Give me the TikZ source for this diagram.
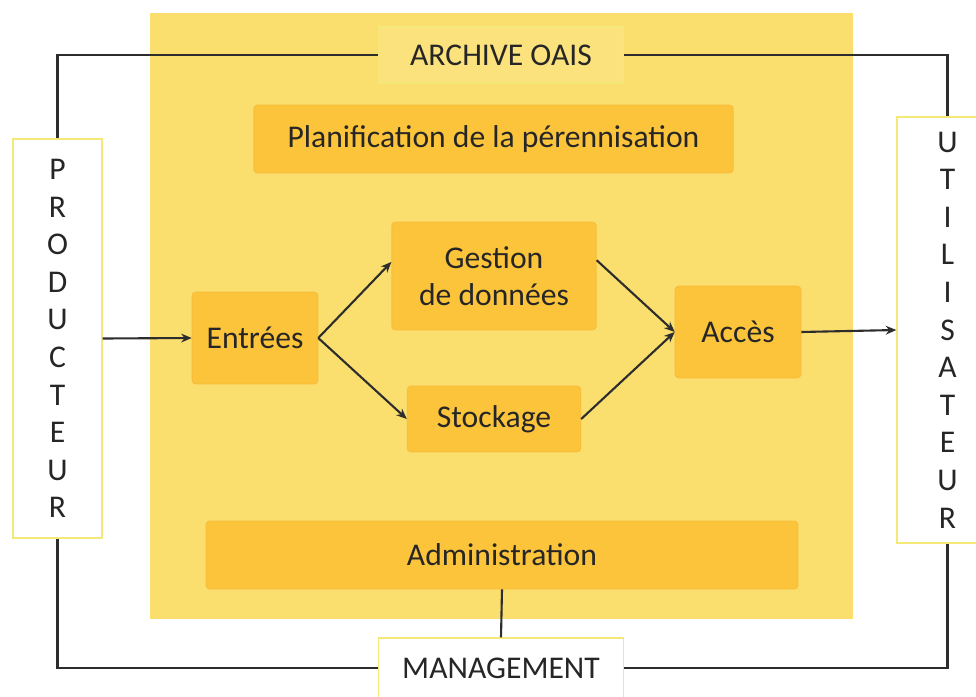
\documentclass[tikz,border=0pt]{standalone}
\usepackage{fontspec}
\setmainfont{Carlito}
\usetikzlibrary{arrows.meta}

\definecolor{fond}{RGB}{250,222,110}
\definecolor{bloc}{RGB}{252,196,58}
\definecolor{blocbord}{RGB}{248,190,60}
\definecolor{etiq}{RGB}{251,226,124}
\definecolor{bord}{RGB}{244,232,120}
\definecolor{trait}{RGB}{45,45,45}

\begin{document}
\begin{tikzpicture}[x=0.02cm,y=-0.02cm,>={Stealth[length=6pt,width=5pt]},
  every node/.style={font={\fontsize{18}{21.4}\selectfont},text=black!85},
  bloc/.style={rectangle,rounded corners=2pt,fill=bloc,draw=blocbord,line width=0.6pt,align=center,inner sep=0pt},
  etiquette/.style={rectangle,fill=etiq,draw=bord,line width=0.8pt,inner sep=0pt},
  acteur/.style={rectangle,fill=white,draw=bord,line width=1pt,align=center,inner sep=0pt},
  lien/.style={draw=trait,line width=1.2pt},
  fleche/.style={lien,->}]
\path[use as bounding box,clip] (0,0) rectangle (976,696);
\fill[white] (0,0) rectangle (976,696);

% cadre de l'archive
\fill[fond] (150,13) rectangle (853,619);

\node[etiquette,minimum width=246*0.567pt,minimum height=56*0.567pt] (archive) at (501,55) {ARCHIVE OAIS};
\node[etiquette,fill=white,minimum width=246*0.567pt,minimum height=60*0.567pt] (mgmt) at (501,668) {MANAGEMENT};

\node[bloc,minimum width=481*0.567pt,minimum height=68*0.567pt] (planif) at (493.5,139) {Planification de la pérennisation};
\node[bloc,minimum width=126*0.567pt,minimum height=92*0.567pt] (entrees) at (255,338) {Entrées};
\node[bloc,minimum width=205*0.567pt,minimum height=108*0.567pt] (gestion) at (494,276) {Gestion\\de données};
\node[bloc,minimum width=174*0.567pt,minimum height=66*0.567pt] (stockage) at (494,419) {Stockage};
\node[bloc,minimum width=126*0.567pt,minimum height=92*0.567pt] (acces) at (738,332) {Accès};
\node[bloc,minimum width=594*0.567pt,minimum height=68*0.567pt] (admin) at (502,555) {Administration};

% acteurs
\node[acteur,minimum width=89*0.567pt,minimum height=401*0.567pt] (prod) at (57.5,338.5) {P\\R\\O\\D\\U\\C\\T\\E\\U\\R};
\node[acteur,minimum width=101*0.567pt,minimum height=428*0.567pt] (util) at (947.5,330) {U\\T\\I\\L\\I\\S\\A\\T\\E\\U\\R};

% liaisons
\draw[lien] (archive.west) -| (prod.north);
\draw[lien] (archive.east) -| (util.north);
\draw[lien] (mgmt.west) -| (prod.south);
\draw[lien] (mgmt.east) -| (util.south);
\draw[lien] (admin.south) -- (mgmt.north);

\draw[fleche] (prod.east) -- (entrees.west);
\draw[fleche] (entrees.east) -- ([yshift=8pt]gestion.west);
\draw[fleche] (entrees.east) -- (stockage.west);
\draw[fleche] ([yshift=9pt]gestion.east) -- (acces.west);
\draw[fleche] (stockage.east) -- (acces.west);
\draw[fleche] (acces.east) -- (util.west);
\end{tikzpicture}
\end{document}
